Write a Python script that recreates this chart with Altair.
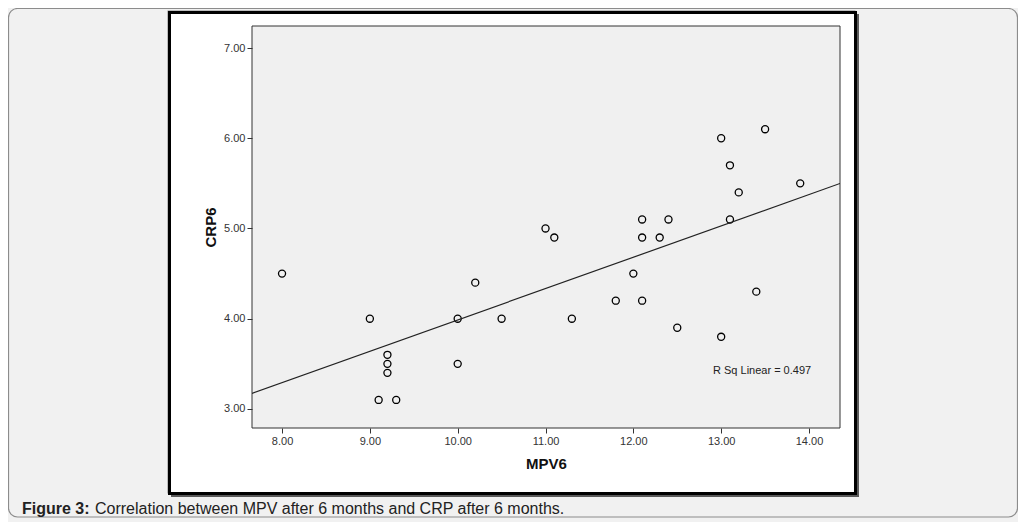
import altair as alt
import pandas as pd

# Data
mpv6 = [8.0, 9.0, 9.1, 9.2, 9.2, 9.2, 9.3, 10.0, 10.0, 10.2, 10.5, 11.0, 11.1, 11.3, 11.8,
        12.0, 12.1, 12.1, 12.1, 12.3, 12.4, 12.5, 13.0, 13.0, 13.1, 13.1, 13.2, 13.4, 13.5, 13.9]
crp6 = [4.5, 4.0, 3.1, 3.6, 3.5, 3.4, 3.1, 4.0, 3.5, 4.4, 4.0, 5.0, 4.9, 4.0, 4.2,
        4.5, 5.1, 4.9, 4.2, 4.9, 5.1, 3.9, 6.0, 3.8, 5.7, 5.1, 5.4, 4.3, 6.1, 5.5]
x_ticks = [8, 9, 10, 11, 12, 13, 14]
y_ticks = [3, 4, 5, 6, 7]
x_domain = [7.658, 14.353]
y_domain = [2.789, 7.244]
r2_label = "R Sq Linear = 0.497"
caption_bold = "Figure 3:"
caption_text = "Correlation between MPV after 6 months and CRP after 6 months."

df = pd.DataFrame({"MPV6": mpv6, "CRP6": crp6})
one = pd.DataFrame({"k": [0]})

FONT = "Liberation Sans"
W, H = 588, 402

xs = alt.Scale(domain=x_domain, nice=False, zero=False)
ys = alt.Scale(domain=y_domain, nice=False, zero=False)

page = alt.Chart(one).mark_rect(
    fill="#f1f1f1", stroke="#8c8c8c", strokeWidth=1.2, cornerRadius=9
).encode(x=alt.value(-243.5), x2=alt.value(765.5), y=alt.value(-17.5), y2=alt.value(491))

shadow = alt.Chart(one).mark_rect(fill="#5a5a5a").encode(
    x=alt.value(-81), x2=alt.value(607), y=alt.value(-12), y2=alt.value(471))

outline = alt.Chart(one).mark_rect(fill="#8a8a8a").encode(
    x=alt.value(-84.5), x2=alt.value(603.5), y=alt.value(-15.5), y2=alt.value(467.5))

frame = alt.Chart(one).mark_rect(fill="white", stroke="black", strokeWidth=3).encode(
    x=alt.value(-82.5), x2=alt.value(603.5), y=alt.value(-13.5), y2=alt.value(467.5))

plotbox = alt.Chart(one).mark_rect(fill="#f0f0f0", stroke="#333333", strokeWidth=1).encode(
    x=alt.value(0), x2=alt.value(W), y=alt.value(0), y2=alt.value(H))

axis_common = dict(
    format=".2f", grid=False, domain=False, labelFont=FONT, labelFontSize=11,
    labelColor="#333333", tickColor="#333333", tickSize=5, tickWidth=1, labelPadding=2,
    titleFont=FONT, titleFontSize=15, titleFontWeight="bold", titleColor="#111111",
    zindex=2,
)

points = alt.Chart(df).mark_point(
    shape="circle", filled=False, size=50, color="black", strokeWidth=1.3, opacity=1
).encode(
    x=alt.X("MPV6:Q", scale=xs, title="MPV6",
            axis=alt.Axis(values=x_ticks, titlePadding=10, **axis_common)),
    y=alt.Y("CRP6:Q", scale=ys, title="CRP6",
            axis=alt.Axis(values=y_ticks, titlePadding=5, **axis_common)),
)

fit = alt.Chart(df).transform_regression(
    "MPV6", "CRP6", extent=x_domain
).mark_line(color="#222222", strokeWidth=1.2, clip=True).encode(
    x=alt.X("MPV6:Q", scale=xs), y=alt.Y("CRP6:Q", scale=ys))

r2 = alt.Chart(one).mark_text(
    text=r2_label, font=FONT, fontSize=11, color="#222222", align="left", baseline="middle"
).encode(x=alt.value(461), y=alt.value(345))

cap1 = alt.Chart(one).mark_text(
    text=caption_bold, font=FONT, fontSize=16, fontWeight="bold", color="#222222",
    align="left", baseline="middle"
).encode(x=alt.value(-230), y=alt.value(483))

cap2 = alt.Chart(one).mark_text(
    text=caption_text, font=FONT, fontSize=16, color="#222222",
    align="left", baseline="middle"
).encode(x=alt.value(-157), y=alt.value(483))

chart = alt.layer(page, outline, shadow, frame, plotbox, points, fit, r2, cap1, cap2).properties(
    width=W, height=H,
    autosize=alt.AutoSizeParams(type="none"),
    padding={"left": 244, "top": 18, "right": 178, "bottom": 94},
    background="#f1f1f1",
).configure_view(stroke=None, fill=None)

chart.save("out.html", embed_options={"renderer": "svg", "actions": False})
